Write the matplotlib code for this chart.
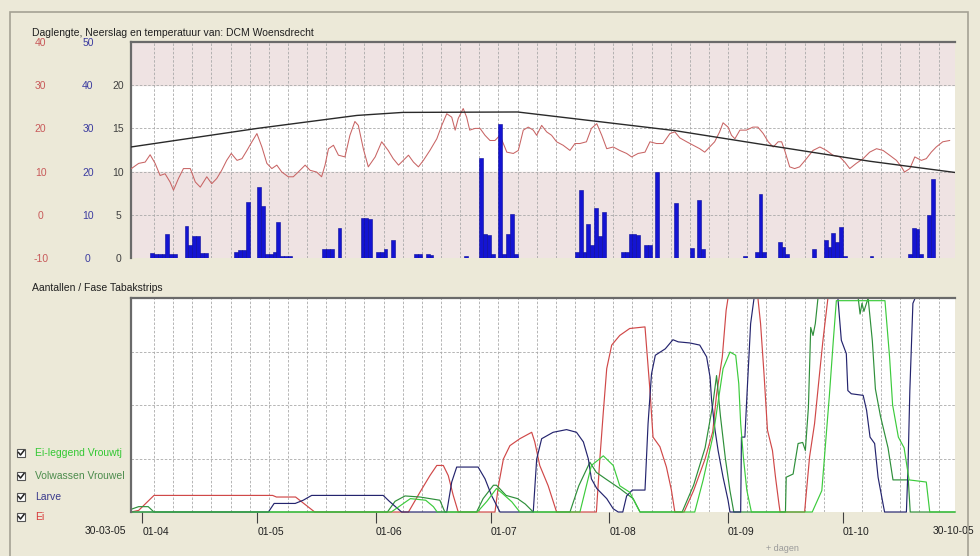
import numpy as np
import pandas as pd
import matplotlib
matplotlib.use('Agg')
import matplotlib.pyplot as plt
from matplotlib.patches import Rectangle
from matplotlib.lines import Line2D

plt.rcParams['font.family'] = ['Liberation Sans', 'DejaVu Sans']
plt.rcParams['axes.unicode_minus'] = False

# ---- datos (dias desde 30-03-2005) ----
start = pd.Timestamp('2005-03-30')
end = pd.Timestamp('2005-10-30')

# neerslag (mm per dag)
rain_day = [4, 5, 6, 7, 8, 9, 10, 13, 14, 15, 16, 17, 18, 26, 27, 28, 29, 32, 33, 34, 35,
            36, 37, 38, 39, 40, 49, 50, 51, 53, 59, 60, 61, 63, 64, 65, 67, 73, 74, 76, 77,
            86, 90, 91, 92, 93, 95, 96, 97, 98, 99, 115, 116, 117, 118, 119, 120, 121, 122,
            127, 128, 129, 130, 131, 133, 134, 136, 141, 145, 147, 148, 159, 162, 163, 164,
            168, 169, 170, 177, 180, 181, 182, 183, 184, 185, 192, 202, 203, 204, 205, 207, 208]
rain_mm = [1.2, 1.0, 1.0, 1.0, 5.5, 1.0, 1.0, 7.4, 3.0, 5.2, 5.0, 1.2, 1.2, 1.5, 1.8, 1.8, 13.0,
           16.4, 12.0, 1.0, 1.0, 1.5, 8.3, 0.5, 0.5, 0.5, 2.0, 2.0, 2.0, 6.9, 9.3, 9.3, 9.0,
           1.5, 1.5, 2.0, 4.1, 1.0, 1.0, 1.0, 0.8, 0.5, 23.1, 5.6, 5.3, 1.0, 31.1, 1.0, 5.6,
           10.1, 1.0, 1.5, 15.8, 1.5, 7.8, 3.0, 11.6, 5.0, 10.6, 1.5, 1.5, 5.5, 5.5, 5.3, 2.9,
           2.9, 20.0, 12.7, 2.4, 13.4, 2.0, 0.5, 1.5, 14.9, 1.5, 3.7, 2.6, 1.0, 2.0, 4.1, 2.6,
           5.9, 3.7, 7.2, 0.5, 0.5, 1.0, 7.0, 6.8, 1.0, 9.9, 18.2]

# temperatuur (graden C)
temp_day = [-0.9, 1.0, 2.7, 4.0, 5.3, 6.6, 7.9, 9.2, 10.1, 11.4, 12.7, 14.5, 15.8, 17.1, 18.8,
            20.1, 21.4, 22.7, 24.0, 25.2, 26.7, 28.0, 29.3, 30.6, 31.9, 33.2, 34.5, 35.8, 37.1,
            38.4, 40.1, 41.4, 42.7, 44.5, 45.8, 47.5, 48.8, 49.7, 50.6, 51.9, 53.2, 54.9, 56.2,
            57.5, 58.4, 59.7, 61.0, 62.8, 64.5, 66.2, 67.5, 68.9, 70.6, 71.5, 72.8, 74.1, 75.4,
            77.1, 78.9, 80.2, 81.5, 82.8, 83.7, 84.5, 85.8, 86.7, 87.5, 88.9, 90.2, 91.5, 92.8,
            94.1, 95.4, 97.2, 98.9, 100.2, 101.5, 102.8, 104.1, 105.0, 106.3, 107.6, 108.9,
            110.2, 111.9, 113.7, 115.0, 116.3, 118.0, 119.3, 120.7, 122.0, 123.3, 125.0, 126.7,
            128.5, 129.8, 131.5, 133.3, 134.6, 136.3, 138.0, 139.8, 141.1, 142.4, 144.2, 145.9,
            147.6, 148.9, 150.2, 151.5, 152.8, 153.7, 155.0, 155.9, 156.8, 158.1, 159.8, 161.5,
            162.8, 164.2, 165.5, 166.8, 168.1, 169.0, 169.8, 171.1, 172.4, 173.7, 175.5, 177.2,
            179.0, 180.7, 182.4, 184.2, 185.5, 186.8, 188.5, 190.3, 192.0, 193.8, 195.5, 197.2,
            199.0, 200.3, 201.1, 202.5, 203.8, 205.5, 206.8, 208.1, 209.4, 211.1, 212.9]
temp_c = [10.7, 11.9, 12.2, 13.9, 11.9, 9.1, 9.5, 7.6, 5.7, 8.4, 10.7, 10.7, 7.6, 6.4, 8.8,
          7.2, 8.4, 10.3, 12.6, 14.2, 12.6, 13.0, 14.9, 16.9, 18.8, 15.7, 11.9, 10.7, 11.5,
          9.9, 8.8, 8.8, 9.9, 11.5, 10.3, 9.9, 8.8, 11.5, 15.3, 16.1, 13.8, 13.4, 18.4,
          21.6, 20.7, 15.3, 11.1, 13.4, 16.9, 14.9, 13.0, 11.5, 13.0, 13.8, 12.2, 11.1, 12.6,
          14.9, 17.6, 20.7, 23.4, 22.6, 19.6, 22.3, 24.6, 22.6, 19.6, 20.0, 20.0, 18.4, 17.2,
          17.2, 18.4, 14.5, 14.2, 14.9, 19.6, 20.3, 19.6, 18.4, 20.7, 19.2, 18.4,
          16.9, 16.1, 14.9, 16.5, 16.5, 16.9, 20.0, 21.1, 18.4, 15.3, 15.7, 14.9,
          14.2, 13.4, 14.2, 14.5, 16.9, 16.5, 16.5, 18.8, 19.2, 17.8, 16.9, 16.1,
          15.3, 14.5, 15.7, 16.9, 19.2, 21.3, 20.3, 18.4, 17.6, 19.6, 19.6, 20.3,
          20.3, 18.8, 16.9, 15.7, 16.9, 16.9, 14.9, 11.1, 10.7, 11.1, 13.0, 14.9,
          15.7, 14.9, 13.8, 13.4, 12.2, 10.7, 11.9, 13.0, 14.5, 15.3, 14.9, 13.8,
          12.6, 11.1, 9.9, 10.7, 13.4, 12.6, 13.0, 14.5, 15.7, 16.9, 17.2]

# daglengte (uren)
dag_day = [-1, 32, 58, 70, 100, 121, 141, 166, 192, 214.3]
dag_uur = [12.85, 15.0, 16.5, 16.85, 16.9, 15.8, 14.75, 13.0, 11.2, 9.9]

# aantallen per fase (schaal 0-4, boven = vol)
ei_day = [-1, 1, 5, 36, 37, 42, 44.5, 47, 71.5, 74.5, 77.1, 78.9, 80.6, 81.9, 83.2, 84.5,
          94.1, 95, 96.3, 98, 100.6, 103.7, 104.5, 105.8, 108, 110.2, 120.6, 121.5, 122.4,
          123.3, 124.6, 126.7, 129.3, 133.3, 134.6, 135.4, 137.2, 138.9, 140.2, 141.1,
          143.5, 146, 149, 151, 152, 153.5, 154.5, 155, 162.8, 163.5, 164.4, 165.3, 166.6,
          167.4, 168.3, 168.6, 175, 176.3, 177.6, 178.9, 179.8, 181.1, 214.3]
ei_val = [0, 0.03, 0.31, 0.31, 0.28, 0.28, 0.14, 0, 0, 0.37, 0.68, 0.87, 0.87, 0.68, 0.31, 0,
          0, 0.49, 0.99, 1.24, 1.37, 1.49, 1.31, 0.87, 0.49, 0, 0, 0.99, 1.86,
          2.68, 3.12, 3.3, 3.43, 3.46, 2.27, 1.4, 1.22, 0.84, 0.41, 0,
          0, 0.4, 0.99, 1.5, 2.2, 2.9, 3.77, 4, 4, 3.52, 2.58, 1.53, 1.15,
          0.65, 0.15, 0, 0, 1.03, 1.65, 2.58, 3.21, 4, 4]

larve_day = [-1, 34.9, 36.4, 41.9, 44, 46.2, 64.9, 66.5, 69.7, 81.5, 82.8, 84.1, 89.7, 91.5,
             93.2, 95.4, 104.1, 105, 106.3, 109.3, 112.8, 115.4, 117.2, 118.5, 119.3, 120.7,
             123.3, 125, 126.3, 127.5, 128.5, 130, 133.3, 134.1, 135, 136, 138.6, 140.6, 142,
             145, 147.6, 149.4, 150.3, 150.7, 151.6, 152.4, 153.7, 155, 155.5, 158.3, 158.5,
             159.4, 160, 160.9, 161.8, 183.7, 184.6, 185.9, 186.3, 187.2, 190.3, 191.2, 192.1,
             193.3, 194.2, 195.5, 195.9, 201.6, 202, 202.5, 203.3, 203.9, 214.3]
larve_val = [0, 0, 0.16, 0.16, 0.22, 0.31, 0.31, 0.2, 0, 0, 0.56, 0.84, 0.84, 0.62,
             0.31, 0, 0, 0.99, 1.37, 1.49, 1.54, 1.49, 1.31, 0.99, 0.62, 0.44,
             0.25, 0.06, 0, 0, 0.3, 0.41, 0.41, 1.65, 2.58, 2.93, 3.05, 3.22, 3.18,
             3.16, 3.12, 2.9, 2.52, 2.09, 1.53, 1.15, 0.65, 0.22, 0, 0, 1.4,
             1.4, 2.27, 3.52, 4, 4, 3.21, 2.96, 2.27, 2.21, 2.18, 1.9, 1.4,
             1.28, 0.65, 0.15, 0, 0, 0.78, 2.27, 3.9, 4, 4]

volw_day = [-1, 1, 3.5, 5, 66, 68, 70.6, 74.5, 79.7, 81, 89.3, 91, 93.7, 94.5, 97, 100, 102,
            104.1, 113.7, 116, 118.9, 120.6, 123, 126.7, 130.2, 132, 143, 146, 149, 151, 152,
            153, 154.3, 155.5, 156.5, 170, 170.2, 172, 173.3, 174.5, 175.2, 176, 176.6, 177.2,
            177.8, 178.5, 189, 189.5, 190, 190.5, 191.6, 192.7, 193.5, 194.8, 196.8, 198.1,
            202.1, 202.6, 214.3]
volw_val = [0.05, 0.1, 0.1, 0, 0, 0.2, 0.3, 0.28, 0.22, 0, 0, 0.25, 0.5, 0.5, 0.31, 0.25, 0.15,
            0, 0, 0.49, 0.93, 0.74, 0.62, 0.44, 0.25, 0, 0, 0.5, 1.2, 2.0, 2.55,
            1.8, 1.0, 0.4, 0, 0, 0.65, 0.71, 1.28, 1.3, 1.15, 1.96, 3.45, 3.3,
            3.52, 4, 4, 3.7, 3.9, 3.75, 4, 3.2, 2.3, 1.8, 1.2, 0.6,
            0.6, 0, 0]

leg_day = [-1, 67, 70, 72, 76, 78, 79, 89.5, 92, 94.5, 96, 98.5, 100.6, 116.3, 119.3, 122.4,
           125, 126.7, 129.3, 131.1, 132, 146.3, 148.5, 151.1, 153.7, 155.5, 157, 157.8, 158.3,
           159, 159.9, 161.1, 177, 179.5, 181.5, 182.5, 183.3, 196, 197.2, 198, 199.5, 201,
           202.3, 206.8, 207.7, 214.3]
leg_val = [0, 0, 0.15, 0.25, 0.22, 0.1, 0, 0, 0.2, 0.44, 0.35, 0.19, 0, 0, 0.87, 1.05,
           0.87, 0.49, 0.37, 0.12, 0, 0, 0.6, 1.43, 2.68, 2.99, 2.93, 2.4, 1.65,
           1.03, 0.41, 0, 0, 0.4, 2.2, 3.2, 3.95, 3.95, 2.9, 2.0, 1.4, 1.2,
           0.6, 0.56, 0, 0]

fase_namen = ['Ei-leggend Vrouwtj', 'Volwassen Vrouwel', 'Larve', 'Ei']
fase_tekst = ['#33C833', '#4C8C4C', '#3A3A8C', '#D83A3A']

maanden = ['01-04', '01-05', '01-06', '01-07', '01-08', '01-09', '01-10']

# ---- figuur ----
W, H = 980, 556
fig = plt.figure(figsize=(9.8, 5.56), dpi=100)
fig.patch.set_facecolor('#ECE9D8')


def box(x0, y0, x1, y1):
    return [x0 / W, 1 - y1 / H, (x1 - x0) / W, (y1 - y0) / H]


# kader rond alles
fig.patches.append(Rectangle((10 / W, -0.02), 958 / W, 1 - 12 / H + 0.02, transform=fig.transFigure,
                             fill=False, edgecolor='#A5A294', lw=1.2))

x_lim = (-1, 214.3)
grid_days = np.arange(5, 214, 5)
grid_kw = dict(color='#A9A9A9', linestyle=(0, (3, 2)), linewidth=0.6)

# ----- bovenste paneel: daglengte, neerslag, temperatuur -----
ax_t = fig.add_axes(box(131, 42, 955, 258))
ax_t.set_facecolor('white')
ax_t.set_xlim(*x_lim)
ax_t.set_ylim(-10, 40)
ax_t.axhspan(30, 40, color='#EFE3E3', zorder=0)
ax_t.axhspan(-10, 10, color='#EFE3E3', zorder=0)
ax_t.set_xticks(grid_days)
ax_t.set_xticklabels([])
ax_t.tick_params(axis='x', length=0)
ax_t.set_yticks([-10, 0, 10, 20, 30, 40])
ax_t.grid(True, **grid_kw)
ax_t.set_axisbelow(True)
ax_t.tick_params(axis='y', length=0, pad=65, labelsize=7.5, labelcolor='#C85A5A')
for lab in ax_t.get_yticklabels():
    lab.set_ha('center')
ax_t.plot(temp_day, temp_c, color='#C86464', lw=0.75, zorder=3)

ax_p = ax_t.twinx()
ax_p.set_ylim(0, 50)
ax_p.bar(rain_day, rain_mm, width=1.0, align='edge', color='#1414D2', edgecolor='#0A0A9A', lw=0.4)
ax_p.yaxis.tick_left()
ax_p.set_yticks([0, 10, 20, 30, 40, 50])
ax_p.tick_params(axis='y', length=0, pad=31, labelsize=7.5, labelcolor='#3C3CA0')
for lab in ax_p.get_yticklabels():
    lab.set_ha('center')

ax_d = ax_t.twinx()
ax_d.set_ylim(0, 25)
ax_d.plot(dag_day, dag_uur, color='#2A2A2A', lw=1.0)
ax_d.yaxis.tick_left()
ax_d.set_yticks([0, 5, 10, 15, 20])
ax_d.tick_params(axis='y', length=0, pad=9, labelsize=7.5, labelcolor='#404040')
for lab in ax_d.get_yticklabels():
    lab.set_ha('center')

for a in (ax_t, ax_p, ax_d):
    for s in a.spines.values():
        s.set_visible(False)
    a.set_xlim(*x_lim)
ax_t.spines['left'].set_visible(True)
ax_t.spines['top'].set_visible(True)
ax_t.spines['left'].set_color('#6A6A6A')
ax_t.spines['top'].set_color('#6A6A6A')
ax_t.spines['left'].set_linewidth(1.6)
ax_t.spines['top'].set_linewidth(1.6)

fig.text(32 / W, 1 - 33 / H, 'Daglengte, Neerslag en temperatuur van: DCM Woensdrecht',
         fontsize=7.5, color='#202020', va='center')

# ----- onderste paneel: aantallen / fase -----
ax_b = fig.add_axes(box(131, 298, 955, 512))
ax_b.set_facecolor('white')
ax_b.set_xlim(*x_lim)
ax_b.set_ylim(0, 4)
ax_b.set_yticks([1, 2, 3])
ax_b.set_yticklabels([])
ax_b.tick_params(axis='y', length=0)
ax_b.yaxis.grid(True, **grid_kw)
ax_b.set_xticks(grid_days, minor=True)
ax_b.xaxis.grid(True, which='minor', **grid_kw)
ax_b.set_axisbelow(True)

maand_pos = [(pd.Timestamp('2005-%s-01' % m[3:]) - start).days for m in maanden]
ax_b.set_xticks(maand_pos)
ax_b.set_xticklabels(maanden)
ax_b.tick_params(axis='x', which='major', length=8, width=0.8, color='#404040',
                 pad=3, labelsize=7.5, labelcolor='#202020')
ax_b.tick_params(axis='x', which='minor', length=0)
for lab in ax_b.get_xticklabels():
    lab.set_ha('left')

ax_b.annotate(start.strftime('%d-%m-%y'), xy=(0, 0), xycoords=('data', 'axes fraction'),
              xytext=(-6, -14), textcoords='offset points', ha='right', va='center',
              fontsize=7.5, color='#202020')
ax_b.annotate(end.strftime('%d-%m-%y'), xy=((end - start).days, 0), xycoords=('data', 'axes fraction'),
              xytext=(0, -14), textcoords='offset points', ha='center', va='center',
              fontsize=7.5, color='#202020')
ax_b.annotate('+ dagen', xy=(0.79, 0), xycoords='axes fraction', xytext=(0, -26),
              textcoords='offset points', ha='center', va='center', fontsize=6.5, color='#9A9A9A')

# tekenvolgorde: Ei, Volwassen, Larve, Ei-leggend
ax_b.plot(ei_day, ei_val, color='#D04848', lw=0.85, clip_on=False)
ax_b.plot(volw_day, volw_val, color='#2E8F3A', lw=0.85, clip_on=False)
ax_b.plot(larve_day, larve_val, color='#24246E', lw=0.85, clip_on=False)
ax_b.plot(leg_day, leg_val, color='#3CCB3C', lw=0.85, clip_on=False)

for s in ax_b.spines.values():
    s.set_visible(False)
ax_b.spines['left'].set_visible(True)
ax_b.spines['top'].set_visible(True)
ax_b.spines['left'].set_color('#6A6A6A')
ax_b.spines['top'].set_color('#6A6A6A')
ax_b.spines['left'].set_linewidth(1.6)
ax_b.spines['top'].set_linewidth(1.6)

fig.text(32 / W, 1 - 288 / H, 'Aantallen / Fase Tabakstrips', fontsize=7.5, color='#202020', va='center')

# legenda met vinkjes
leg_y = [453, 476, 497, 517]
for naam, kl, yy in zip(fase_namen, fase_tekst, leg_y):
    fig.patches.append(Rectangle((17 / W, 1 - (yy + 4) / H), 8 / W, 8 / H, transform=fig.transFigure,
                                 facecolor='white', edgecolor='#555555', lw=0.8))
    fig.lines.append(Line2D([18.5 / W, 20.5 / W, 24 / W], [1 - (yy - 0.5) / H, 1 - (yy + 2) / H, 1 - (yy - 2.5) / H],
                            transform=fig.transFigure, color='#222222', lw=1.1))
    fig.text(35 / W, 1 - yy / H, naam, fontsize=7.5, color=kl, va='center')

fig.savefig('out.png', dpi=100, facecolor=fig.get_facecolor())
